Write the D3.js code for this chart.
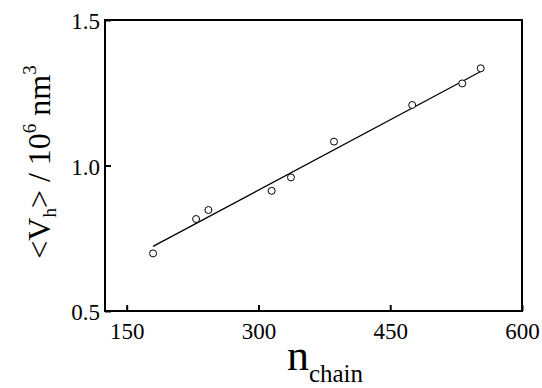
<!DOCTYPE html>
<html>
<head>
<meta charset="utf-8">
<script src="https://cdn.jsdelivr.net/npm/d3@7"></script>
<style>
  html, body { margin: 0; padding: 0; background: #fff; }
  svg { display: block; }
  svg text { font-family: "Times New Roman", "Liberation Serif", Times, "DejaVu Serif", serif; }
</style>
</head>
<body>
<svg id="chart" width="542" height="388"></svg>
<script>
// measured points
const nChain = [180, 229, 243, 315, 337, 386, 475, 532, 553];
const vh = [0.698, 0.816, 0.847, 0.913, 0.959, 1.082, 1.208, 1.282, 1.334];
// linear fit, end points
const fitX = [180, 553];
const fitY = [0.722, 1.323];
const xTicks = [150, 300, 450, 600];
const yTicks = [0.5, 1.0, 1.5];

const margin = { top: 20, right: 20, bottom: 77, left: 105 };
const width = 542 - margin.left - margin.right;
const height = 388 - margin.top - margin.bottom;

const svg = d3.select('#chart');
const g = svg.append('g')
  .attr('transform', 'translate(' + margin.left + ',' + margin.top + ')');

const x = d3.scaleLinear().domain([125.3, 600]).range([0, width]);
const y = d3.scaleLinear().domain([0.5, 1.5]).range([height, 0]);

// inward ticks
const xAxis = g.append('g')
  .attr('transform', 'translate(0,' + height + ')')
  .call(d3.axisBottom(x).tickValues(xTicks).tickSizeInner(-6).tickSizeOuter(0).tickPadding(12).tickFormat(d3.format('d')));
const yAxis = g.append('g')
  .call(d3.axisLeft(y).tickValues(yTicks).tickSizeInner(-6).tickSizeOuter(0).tickPadding(5).tickFormat(d3.format('.1f')));

[xAxis, yAxis].forEach(a => {
  a.attr('font-family', null);
  a.select('.domain').remove();
  a.selectAll('.tick line').attr('stroke', '#000').attr('stroke-width', 2);
  a.selectAll('.tick text')
    .attr('fill', '#000')
    .style('font-size', '23px');
});
yAxis.selectAll('.tick text').attr('dy', '0.38em');

// frame
g.append('rect')
  .attr('x', 0).attr('y', 0)
  .attr('width', width).attr('height', height)
  .attr('fill', 'none')
  .attr('stroke', '#000')
  .attr('stroke-width', 2);

// fit line
const line = d3.line()
  .x(d => x(d[0]))
  .y(d => y(d[1]));
g.append('path')
  .datum(d3.zip(fitX, fitY))
  .attr('d', line)
  .attr('fill', 'none')
  .attr('stroke', '#000')
  .attr('stroke-width', 1.3);

// open circles
g.append('g')
  .selectAll('circle')
  .data(d3.zip(nChain, vh))
  .enter()
  .append('circle')
  .attr('cx', d => x(d[0]))
  .attr('cy', d => y(d[1]))
  .attr('r', 3.5)
  .attr('fill', '#fff')
  .attr('stroke', '#000')
  .attr('stroke-width', 1);

// x label
const xl = svg.append('text')
  .attr('x', 325)
  .attr('y', 370)
  .attr('text-anchor', 'middle')
  .attr('fill', '#000');
xl.append('tspan').style('font-size', '44px').text('n');
xl.append('tspan').style('font-size', '25px').attr('dy', 12).text('chain');

// y label
const yl = svg.append('text')
  .attr('transform', 'translate(50,162) rotate(-90)')
  .attr('text-anchor', 'middle')
  .attr('fill', '#000')
  .style('font-size', '32px');
yl.append('tspan').text('<V');
yl.append('tspan').style('font-size', '19px').attr('dy', 6).text('h');
yl.append('tspan').attr('dy', -6).text('> / 10');
yl.append('tspan').style('font-size', '19px').attr('dy', -14).text('6');
yl.append('tspan').attr('dy', 14).text(' nm');
yl.append('tspan').style('font-size', '19px').attr('dy', -14).text('3');
</script>
</body>
</html>
